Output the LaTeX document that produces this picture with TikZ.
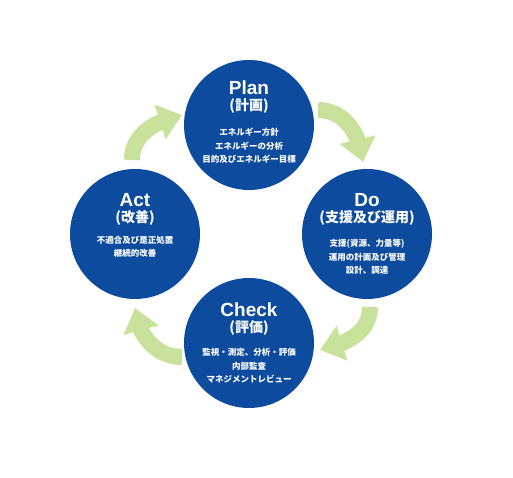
\documentclass[tikz,border=0pt]{standalone}
\usepackage{fontspec}
\setmainfont{Liberation Sans}
\newfontfamily\jp{Noto Sans CJK JP}
\usetikzlibrary{arrows.meta,bending,positioning}
\definecolor{pdcablue}{RGB}{13,75,158}
\definecolor{pdcagreen}{RGB}{200,225,155}

\begin{document}
\begin{tikzpicture}[x=1pt,y=1pt,
  phase/.style={circle,fill=pdcablue,minimum size=130pt,inner sep=0pt},
  ttl/.style={text=white,inner sep=0pt,font=\fontsize{19}{19}\selectfont\bfseries},
  sub/.style={text=white,inner sep=0pt,font=\jp\fontsize{14}{14}\selectfont\bfseries},
  body/.style={text=white,inner sep=0pt,align=center,font=\jp\fontsize{8.5}{13.5}\selectfont\bfseries},
  cyc/.style={draw=pdcagreen,line width=16pt,-{Triangle[width=35pt,length=23pt]}}]
  \useasboundingbox (0,0) rectangle (513,478);

  % the four phases
  \node[phase] (plan)  at (249,353) {};
  \node[phase] (do)    at (367,244) {};
  \node[phase] (check) at (249,135) {};
  \node[phase] (act)   at (135,244) {};

  % Plan
  \node[ttl]  (plan-t) at ([yshift=37]plan.center) {Plan};
  \node[sub]  (plan-s) at ([yshift=19]plan.center) {(計画)};
  \node[body] (plan-b) at ([yshift=-21]plan.center) {エネルギー方針\\エネルギーの分析\\目的及びエネルギー目標};

  % Do
  \node[ttl]  (do-t) at ([yshift=34]do.center) {Do};
  \node[sub]  (do-s) at ([yshift=16]do.center) {(支援及び運用)};
  \node[body] (do-b) at ([yshift=-23]do.center) {支援(資源、力量等)\\運用の計画及び管理\\設計、調達};

  % Check
  \node[ttl]  (check-t) at ([yshift=33]check.center) {Check};
  \node[sub]  (check-s) at ([yshift=15]check.center) {(評価)};
  \node[body] (check-b) at ([yshift=-23]check.center) {監視・測定、分析・評価\\内部監査\\マネジメントレビュー};

  % Act
  \node[ttl]  (act-t) at ([yshift=34]act.center) {Act};
  \node[sub]  (act-s) at ([yshift=16]act.center) {(改善)};
  \node[body] (act-b) at ([yshift=-13]act.center) {不適合及び是正処置\\継続的改善};

  % arrows of the cycle
  \coordinate (a1) at (132,318); \coordinate (b1) at (182,363);
  \coordinate (a2) at (318,368); \coordinate (b2) at (363,316);
  \coordinate (a3) at (370,171); \coordinate (b3) at (320,128);
  \coordinate (a4) at (182,121); \coordinate (b4) at (135,170);
  \draw[cyc] (a1) to[out=90,in=192] (b1);
  \draw[cyc] (a2) to[out=0,in=95] (b2);
  \draw[cyc] (a3) to[out=-90,in=12] (b3);
  \draw[cyc] (a4) to[out=180,in=-85] (b4);
\end{tikzpicture}
\end{document}
